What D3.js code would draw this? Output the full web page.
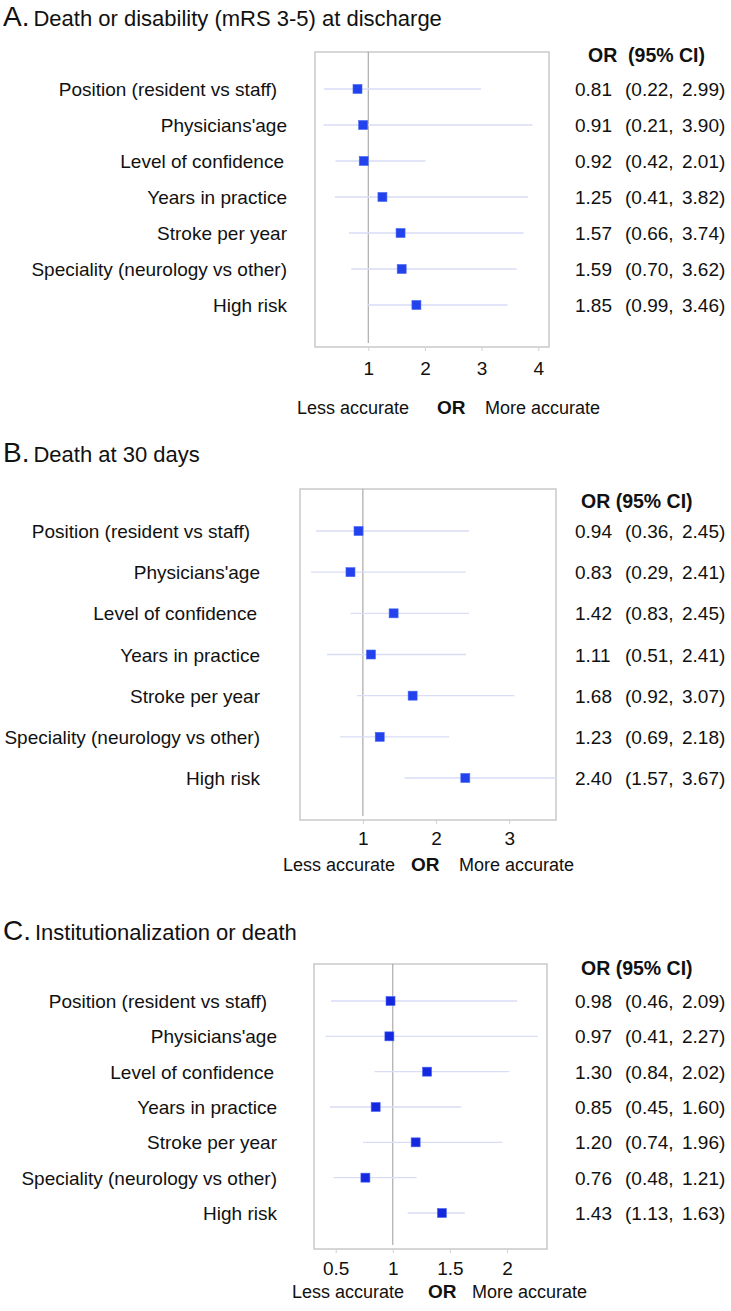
<!DOCTYPE html>
<html><head><meta charset="utf-8">
<script src="https://cdn.jsdelivr.net/npm/d3@7"></script>
<style>
html,body{margin:0;padding:0;background:#fff;}
svg{display:block;font-family:"Liberation Sans",Arial,sans-serif;}
</style></head>
<body>
<svg id="chart" width="731" height="1311"></svg>
<script>
// ---------- DATA ----------
const categories = [
  "Position (resident vs staff)",
  "Physicians'age",
  "Level of confidence",
  "Years in practice",
  "Stroke per year",
  "Speciality (neurology vs other)",
  "High risk"
];
const titlesLetter = ["A.", "B.", "C."];
const titlesText = ["Death or disability (mRS 3-5) at discharge", "Death at 30 days", "Institutionalization or death"];
const headerText = ["OR  (95% CI)", "OR (95% CI)", "OR (95% CI)"];

const orA  = [0.81, 0.91, 0.92, 1.25, 1.57, 1.59, 1.85];
const loA  = [0.22, 0.21, 0.42, 0.41, 0.66, 0.70, 0.99];
const hiA  = [2.99, 3.90, 2.01, 3.82, 3.74, 3.62, 3.46];

const orB  = [0.94, 0.83, 1.42, 1.11, 1.68, 1.23, 2.40];
const loB  = [0.36, 0.29, 0.83, 0.51, 0.92, 0.69, 1.57];
const hiB  = [2.45, 2.41, 2.45, 2.41, 3.07, 2.18, 3.67];

const orC  = [0.98, 0.97, 1.30, 0.85, 1.20, 0.76, 1.43];
const loC  = [0.46, 0.41, 0.84, 0.45, 0.74, 0.48, 1.13];
const hiC  = [2.09, 2.27, 2.02, 1.60, 1.96, 1.21, 1.63];

const ticksA = [1, 2, 3, 4];
const ticksB = [1, 2, 3];
const ticksC = [0.5, 1, 1.5, 2];
const tickLabelsC = ["0.5", "1", "1.5", "2"];

const leftLabel = "Less accurate", midLabel = "OR", rightLabel = "More accurate";

// ---------- LAYOUT ----------
const panels = [
  { or: orA, lo: loA, hi: hiA, ticks: ticksA, tickLabels: ticksA.map(String),
    domain: [0.06, 4.19], box: [315, 549, 52, 347], rows: [89, 305],
    titleY: 26, headerX: 588, headerY: 62, labelRight: 287, tickY: 375, bottomY: 414,
    bottomX: [297, 437, 485], color: "#2242ee" },
  { or: orB, lo: loB, hi: hiB, ticks: ticksB, tickLabels: ticksB.map(String),
    domain: [0.14, 3.64], box: [300, 556, 489, 820], rows: [531, 778],
    titleY: 462, headerX: 581, headerY: 508, labelRight: 260, tickY: 845, bottomY: 871,
    bottomX: [283, 411, 459], color: "#2242ee" },
  { or: orC, lo: loC, hi: hiC, ticks: ticksC, tickLabels: tickLabelsC,
    domain: [0.31, 2.35], box: [314, 547, 964, 1249], rows: [1001, 1213],
    titleY: 940, headerX: 581, headerY: 975, labelRight: 277, tickY: 1275, bottomY: 1298,
    bottomX: [292, 428, 472], color: "#1428e0" }
];
// small right-edge offsets of individual row labels, as in the original figure
const labelShift = [-10, 0, -3, 0, 0, 0, 0];

const svg = d3.select("#chart");
const fmt = d3.format(".2f");

panels.forEach((p, pi) => {
  const g = svg.append("g");
  const [bx0, bx1, by0, by1] = p.box;
  const x = d3.scaleLinear().domain(p.domain).range([bx0, bx1]);
  const y = d3.scalePoint().domain(categories).range(p.rows);

  // title
  const t = g.append("text").attr("x", 3).attr("y", p.titleY).attr("fill", "#111");
  t.append("tspan").attr("font-size", 28).text(titlesLetter[pi]);
  t.append("tspan").attr("font-size", 22).attr("dx", 4).text(titlesText[pi]);

  // box
  g.append("rect").attr("x", bx0).attr("y", by0).attr("width", bx1 - bx0).attr("height", by1 - by0)
    .attr("fill", "none").attr("stroke", "#c9c9c9").attr("stroke-width", 1.5);

  // axis (bottom, faint ticks)
  const axis = d3.axisBottom(x).tickValues(p.ticks).tickSize(4)
    .tickFormat((d, i) => p.tickLabels[i]);
  const ax = g.append("g").attr("transform", `translate(0,${by1})`).call(axis);
  ax.select(".domain").remove();
  ax.selectAll(".tick line").attr("stroke", "#d0d0d0");
  ax.selectAll(".tick text").attr("font-size", 19).attr("fill", "#111")
    .attr("font-family", "Liberation Sans, Arial, sans-serif")
    .attr("y", null).attr("dy", null)
    .attr("transform", `translate(0,${p.tickY - by1})`);

  // reference line at OR = 1
  g.append("line").attr("x1", x(1)).attr("x2", x(1)).attr("y1", by0).attr("y2", by1 - 4)
    .attr("stroke", "#9a9a9a").attr("stroke-width", 1);

  // CI lines
  g.selectAll("line.ci").data(categories).enter().append("line").attr("class", "ci")
    .attr("x1", (d, i) => x(p.lo[i])).attr("x2", (d, i) => x(Math.min(p.hi[i], p.domain[1])))
    .attr("y1", d => y(d)).attr("y2", d => y(d))
    .attr("stroke", "#d9ddf6").attr("stroke-width", 1.3);

  // squares
  const s = 9;
  g.selectAll("rect.pt").data(categories).enter().append("rect").attr("class", "pt")
    .attr("x", (d, i) => x(p.or[i]) - s / 2).attr("y", d => y(d) - s / 2)
    .attr("width", s).attr("height", s)
    .attr("fill", p.color).attr("stroke", "#4a66f2").attr("stroke-width", 0.6);

  // row labels
  g.selectAll("text.lbl").data(categories).enter().append("text").attr("class", "lbl")
    .attr("x", (d, i) => p.labelRight + labelShift[i]).attr("y", d => y(d) + 7)
    .attr("text-anchor", "end").attr("font-size", 19).attr("fill", "#111").text(d => d);

  // header
  g.append("text").attr("x", p.headerX).attr("y", p.headerY).attr("font-size", 19.5)
    .attr("font-weight", "bold").attr("fill", "#111").style("white-space", "pre").text(headerText[pi]);

  // values columns
  const cols = g.selectAll("g.val").data(categories).enter().append("g").attr("class", "val")
    .attr("transform", d => `translate(0,${y(d) + 7})`);
  cols.append("text").attr("x", 575).attr("font-size", 19).attr("fill", "#111")
    .text((d, i) => fmt(p.or[i]));
  cols.append("text").attr("x", 625).attr("font-size", 19).attr("fill", "#111")
    .text((d, i) => "(" + fmt(p.lo[i]) + ",");
  cols.append("text").attr("x", 682).attr("font-size", 19).attr("fill", "#111")
    .text((d, i) => fmt(p.hi[i]) + ")");

  // bottom labels
  g.append("text").attr("x", p.bottomX[0]).attr("y", p.bottomY).attr("font-size", 18).attr("fill", "#111").text(leftLabel);
  g.append("text").attr("x", p.bottomX[1]).attr("y", p.bottomY).attr("font-size", 19).attr("font-weight", "bold").attr("fill", "#111").text(midLabel);
  g.append("text").attr("x", p.bottomX[2]).attr("y", p.bottomY).attr("font-size", 18).attr("fill", "#111").text(rightLabel);
});
</script>
</body></html>
